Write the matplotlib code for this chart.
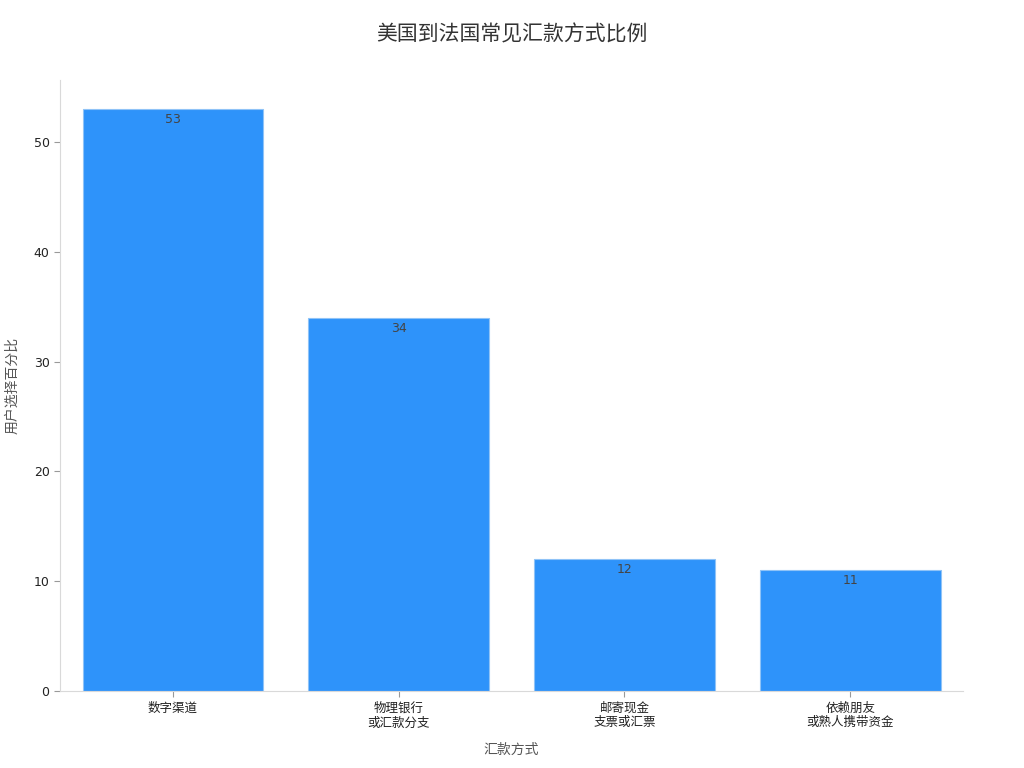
import matplotlib
matplotlib.use("Agg")
import matplotlib.pyplot as plt

plt.rcParams['font.family'] = ['DejaVu Sans', 'Noto Sans CJK SC']

categories = ["数字渠道", "物理银行\n或汇款分支", "邮寄现金\n支票或汇票", "依赖朋友\n或熟人携带资金"]
values = [53, 34, 12, 11]

fig = plt.figure(figsize=(10.24, 7.68), dpi=100)
ax = fig.add_axes([0.0586, 0.1003, 0.882, 0.7955])

x = list(range(len(categories)))
bars = ax.bar(x, values, width=0.8, color="#2E93FA", edgecolor="#8FC3F7", linewidth=0.8)

for xi, v in zip(x, values):
    ax.text(xi, v - 0.35, str(v), ha="center", va="top", fontsize=9, color="#444444")

ax.set_xlim(-0.5, 3.5)
ax.set_ylim(0, 55.65)
ax.set_xticks(x)
ax.set_xticklabels(categories, fontsize=9, color="#222222")
ax.set_yticks([0, 10, 20, 30, 40, 50])
ax.tick_params(axis="y", labelsize=9, colors="#222222")
ax.tick_params(axis="both", color="#999999", length=4)

for s in ["top", "right"]:
    ax.spines[s].set_visible(False)
for s in ["left", "bottom"]:
    ax.spines[s].set_color("#D9D9D9")

ax.set_xlabel("汇款方式", fontsize=10, color="#555555", labelpad=10)
ax.set_ylabel("用户选择百分比", fontsize=10, color="#555555", labelpad=10)
fig.suptitle("美国到法国常见汇款方式比例", fontsize=15, color="#333333", y=0.968)

fig.savefig("out.png", dpi=100)
